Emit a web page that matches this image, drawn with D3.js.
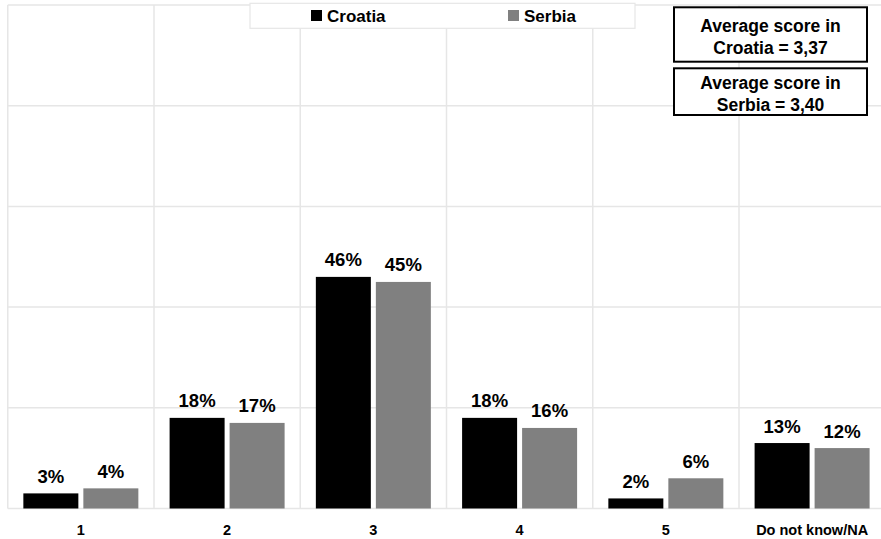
<!DOCTYPE html>
<html>
<head>
<meta charset="utf-8">
<script src="https://cdn.jsdelivr.net/npm/d3@7"></script>
<style>
  html, body { margin: 0; padding: 0; background: #ffffff; }
  svg { display: block; font-family: "Liberation Sans", Arial, sans-serif; font-weight: bold; }
</style>
</head>
<body>
<svg id="chart" width="881" height="539"></svg>
<script>
const categories = ["1", "2", "3", "4", "5", "Do not know/NA"];
const seriesNames = ["Croatia", "Serbia"];
const croatia = [3, 18, 46, 18, 2, 13];
const serbia = [4, 17, 45, 16, 6, 12];
const yTicks = [0, 20, 40, 60, 80, 100];
const averages = [
  ["Average score in", "Croatia = 3,37"],
  ["Average score in", "Serbia = 3,40"]
];
const colors = ["#000000", "#808080"];

const svg = d3.select("#chart");
const x = d3.scaleBand().domain(categories).range([7.75, 885.25]).paddingInner(0).paddingOuter(0);
const xs = d3.scaleBand().domain(seriesNames).range([15.6, 130.6]).paddingInner(1 / 12).paddingOuter(0);
const y = d3.scaleLinear().domain([0, 100]).range([508.5, 5]);

// gridlines
const grid = svg.append("g");
grid.selectAll("line.h").data(yTicks).join("line")
  .attr("x1", 7.75).attr("x2", 885)
  .attr("y1", d => y(d)).attr("y2", d => y(d))
  .attr("stroke", "#e6e6e6").attr("stroke-width", 1.5);
grid.selectAll("line.v").data(categories).join("line")
  .attr("x1", d => x(d)).attr("x2", d => x(d))
  .attr("y1", y(100)).attr("y2", y(0))
  .attr("stroke", "#e6e6e6").attr("stroke-width", 1.5);

// bars
const data = [croatia, serbia];
seriesNames.forEach((s, si) => {
  const g = svg.append("g");
  g.selectAll("rect").data(categories).join("rect")
    .attr("x", d => x(d) + xs(s))
    .attr("width", xs.bandwidth())
    .attr("y", (d, i) => y(data[si][i]))
    .attr("height", (d, i) => y(0) - y(data[si][i]))
    .attr("fill", colors[si]);
  g.selectAll("text").data(categories).join("text")
    .attr("x", d => x(d) + xs(s) + xs.bandwidth() / 2)
    .attr("y", (d, i) => y(data[si][i]) - 10.5)
    .attr("text-anchor", "middle")
    .attr("font-size", "18.5px")
    .attr("fill", "#000")
    .text((d, i) => data[si][i] + "%");
});

// x axis labels
svg.append("g").selectAll("text").data(categories).join("text")
  .attr("x", d => x(d) + x.bandwidth() / 2)
  .attr("y", 535)
  .attr("text-anchor", "middle")
  .attr("font-size", "14.5px")
  .text(d => d);

// legend
const lg = svg.append("g");
lg.append("rect").attr("x", 250).attr("y", 3.3).attr("width", 385).attr("height", 25)
  .attr("fill", "#fff").attr("stroke", "#e6e6e6").attr("stroke-width", 1.2);
const legendX = [311, 508];
seriesNames.forEach((s, i) => {
  lg.append("rect").attr("x", legendX[i]).attr("y", 10).attr("width", 11).attr("height", 11).attr("fill", colors[i]);
  lg.append("text").attr("x", legendX[i] + 16).attr("y", 22).attr("font-size", "17px").text(s);
});

// average boxes
const boxY = [7.3, 68.3];
averages.forEach((lines, i) => {
  const g = svg.append("g");
  g.append("rect").attr("x", 674).attr("y", boxY[i]).attr("width", 193).attr("height", i === 0 ? 54.4 : 46.7)
    .attr("fill", "#fff").attr("stroke", "#000").attr("stroke-width", 2);
  lines.forEach((t, j) => {
    g.append("text").attr("x", 770.5).attr("y", (i === 0 ? 32 : 89) + j * 21.5)
      .attr("text-anchor", "middle").attr("font-size", "17.5px").text(t);
  });
});
</script>
</body>
</html>
